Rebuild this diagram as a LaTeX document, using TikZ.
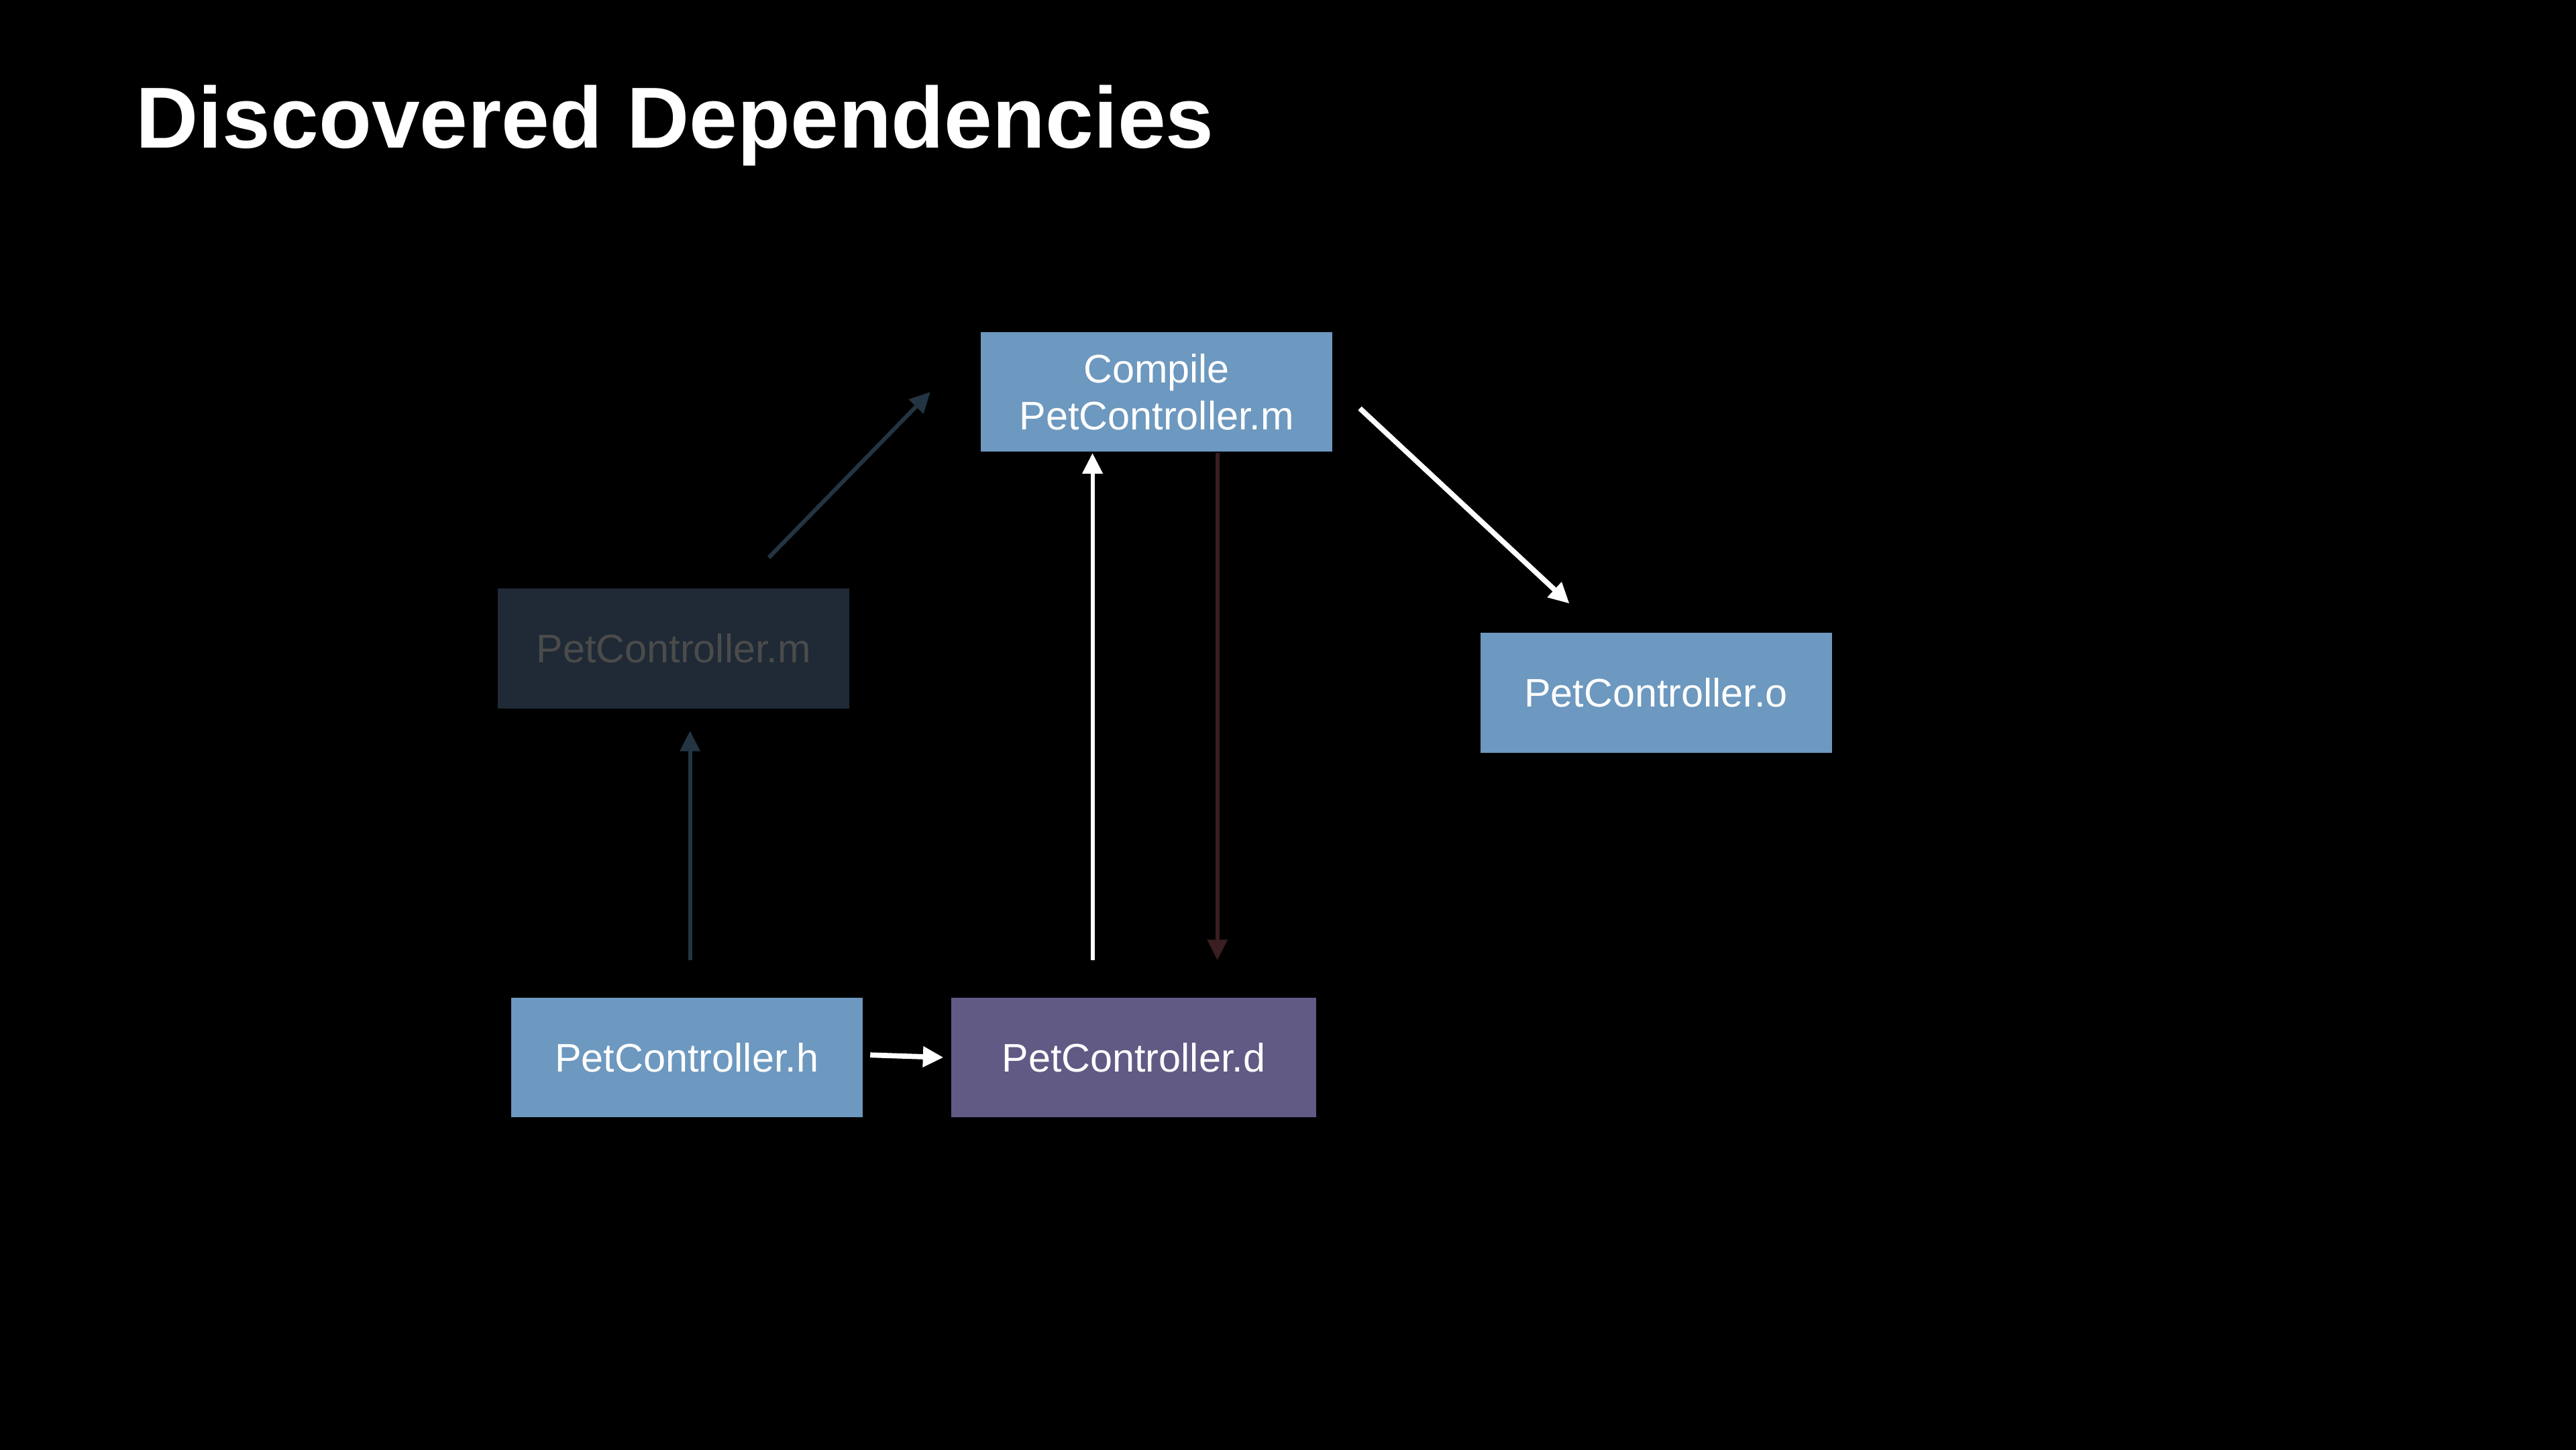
\documentclass[tikz,border=0pt]{standalone}
\usepackage{fontspec}
\setmainfont{Liberation Sans}
\usetikzlibrary{arrows.meta}

\definecolor{boxblue}{HTML}{6D98BF}
\definecolor{boxpurple}{HTML}{605A85}
\definecolor{fadebox}{HTML}{1F2A36}
\definecolor{fadetext}{HTML}{4B4B4B}
\definecolor{fadeline}{HTML}{233442}
\definecolor{redline}{HTML}{3A1E21}

\begin{document}
\begin{tikzpicture}[
  filebox/.style={rectangle, fill=boxblue, text=white, inner sep=0pt, minimum width=2.14cm, minimum height=0.73cm, align=center, font=\fontsize{6.9}{8.2}\selectfont},
  fadedbox/.style={filebox, fill=fadebox, text=fadetext},
  depbox/.style={filebox, fill=boxpurple, minimum width=2.22cm},
  arr/.style={-{Triangle[length=1.25mm, width=1.2mm]}, line width=0.7pt},
  whitearr/.style={arr, draw=white},
  fadearr/.style={arr, draw=fadeline},
  redarr/.style={arr, draw=redline}
]
  \useasboundingbox (0,0) rectangle (15.68,8.82);
  \fill[black] (-0.1,-0.1) rectangle (15.78,8.92);

  \node[anchor=base west, text=white, inner sep=0pt, font=\fontsize{15}{18}\selectfont\bfseries] (title) at (0.82,7.918) {Discovered Dependencies};

  \node[filebox] (compile) at (7.04,6.435) {Compile\\PetController.m};
  \node[fadedbox] (srcm) at (4.10,4.875) {PetController.m};
  \node[filebox] (objo) at (10.08,4.605) {PetController.o};
  \node[filebox] (hdr) at (4.18,2.385) {PetController.h};
  \node[depbox] (dep) at (6.90,2.385) {PetController.d};

  \draw[fadearr] ([shift={(0.58,0.18)}]srcm.north) -- ([xshift=-3mm]compile.west);
  \draw[fadearr] ([xshift=0.2mm,yshift=2.2mm]hdr.north) -- ([xshift=0.2mm,yshift=-1.3mm]hdr.north |- srcm.south);
  \draw[whitearr] ([xshift=-2.5mm,yshift=2.2mm]dep.north) -- ([xshift=-2.5mm]dep.north |- compile.south);
  \draw[redarr] ([xshift=5.1mm]dep.north |- compile.south) -- ([xshift=5.1mm,yshift=2.2mm]dep.north);
  \draw[whitearr, line width=0.9pt] ([shift={(0.16,-0.1)}]compile.east) -- ([shift={(0.55,0.17)}]objo.north west);
  \draw[whitearr, line width=0.9pt] ([xshift=0.4mm,yshift=0.15mm]hdr.east) -- ([xshift=-0.4mm]dep.west);
\end{tikzpicture}
\end{document}
